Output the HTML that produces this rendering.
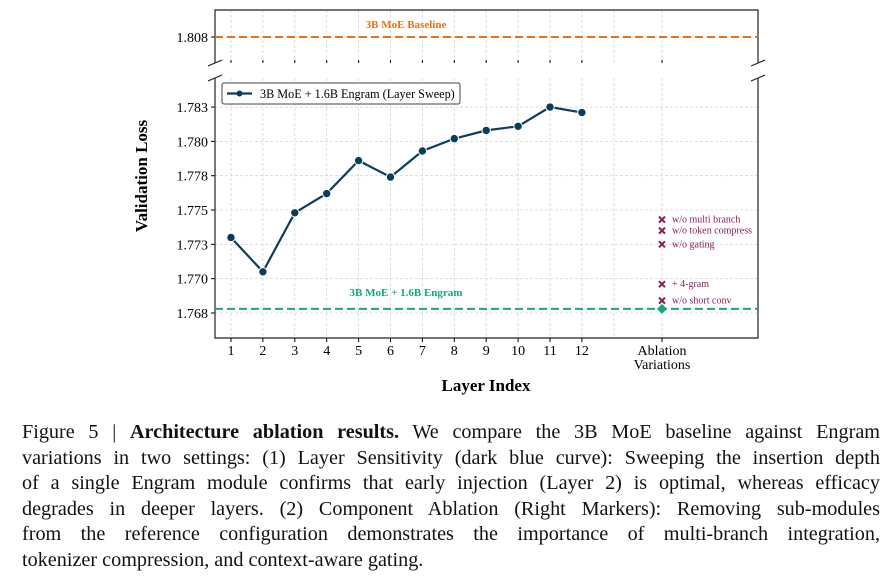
<!DOCTYPE html>
<html><head><meta charset="utf-8">
<style>
body{margin:0;width:896px;height:578px;background:#fff;overflow:hidden;position:relative;font-family:"Liberation Serif",serif;}
svg{position:absolute;left:0;top:0;}
.cap{position:absolute;left:22px;width:858px;font-size:20.2px;color:#111;line-height:25.6px;}
.ln{text-align:justify;text-align-last:justify;white-space:nowrap;height:25.6px;}
.ln.last{text-align-last:left;}
</style></head><body>
<svg id="chart" width="896" height="410" font-family="Liberation Serif, serif"></svg>
<div class="cap" style="top:420px">
<div class="ln">Figure 5 | <b>Architecture ablation results.</b> We compare the 3B MoE baseline against Engram</div>
<div class="ln">variations in two settings: (1) Layer Sensitivity (dark blue curve): Sweeping the insertion depth</div>
<div class="ln">of a single Engram module confirms that early injection (Layer 2) is optimal, whereas efficacy</div>
<div class="ln">degrades in deeper layers. (2) Component Ablation (Right Markers): Removing sub-modules</div>
<div class="ln">from the reference configuration demonstrates the importance of multi-branch integration,</div>
<div class="ln last">tokenizer compression, and context-aware gating.</div>
</div>
<script>
const layers=[1,2,3,4,5,6,7,8,9,10,11,12];
const sweepLoss=[1.7730,1.7705,1.7748,1.7762,1.7786,1.7774,1.7793,1.7802,1.7808,1.7811,1.7825,1.7821];
const ablationLabels=["w/o multi branch","w/o token compress","w/o gating","+ 4-gram","w/o short conv"];
const ablationLoss=[1.7743,1.7735,1.7725,1.7696,1.7684];
const engramLoss=1.7678;
const baselineLoss=1.808;
const yTicks=[1.7675,1.7700,1.7725,1.7750,1.7775,1.7800,1.7825];
const yTickLabels=["1.768","1.770","1.773","1.775","1.778","1.780","1.783"];

const svg=document.getElementById('chart');
const NS='http://www.w3.org/2000/svg';
function el(tag,attrs,parent){const e=document.createElementNS(NS,tag);for(const k in attrs)e.setAttribute(k,attrs[k]);(parent||svg).appendChild(e);return e;}
const L=215,R=758,T1=10,B1=63,T2=78,B2=338;
const xL=i=>231+(i-1)*31.9;
const xAbl=662;
const yB=v=>313-(v-1.7675)*13730;
const yT=v=>37-(v-1.808)*13730;
const navy='#0b3d5a',plum='#8b1e5a',teal='#17a67f',orange='#e8711a',grid='#d6d6d6';

const gx=[...layers.map(xL),614,xAbl];
gx.forEach(x=>{
 let g=el('line',{x1:x,x2:x,y1:T1,y2:B1,stroke:grid,'stroke-dasharray':'3,2','stroke-width':0.8});
 
 g=el('line',{x1:x,x2:x,y1:T2,y2:B2,stroke:grid,'stroke-dasharray':'3,2','stroke-width':0.8});
 
});
yTicks.forEach((v,i)=>{
 const y=yB(v);
 const g=el('line',{x1:L,x2:R,y1:y,y2:y,stroke:grid,'stroke-dasharray':'3,2','stroke-width':0.8});
 
 el('line',{x1:L-4,x2:L,y1:y,y2:y,stroke:'#000'});
 const t=el('text',{x:L-7,y:y+5,'text-anchor':'end','font-size':14});t.textContent=yTickLabels[i];
 
});
{const y=yT(baselineLoss);
 el('line',{x1:L,x2:R,y1:y,y2:y,stroke:grid,'stroke-dasharray':'3,2','stroke-width':0.8});
 el('line',{x1:L-4,x2:L,y1:y,y2:y,stroke:'#000'});
 const t=el('text',{x:L-7,y:y+5,'text-anchor':'end','font-size':14});t.textContent='1.808';
 }

let a=el('path',{d:`M${L},${B1} L${L},${T1} L${R},${T1} L${R},${B1}`,fill:'none',stroke:'#222','stroke-width':1.2});

a=el('path',{d:`M${L},${T2} L${L},${B2} L${R},${B2} L${R},${T2}`,fill:'none',stroke:'#222','stroke-width':1.2});

[[L,B1],[R,B1],[L,T2],[R,T2]].forEach(([x,y])=>el('line',{x1:x-7,x2:x+7,y1:y+3,y2:y-3,stroke:'#222','stroke-width':1.2}));
gx.filter((x,i)=>i<12||x===xAbl).forEach(x=>el('line',{x1:x,x2:x,y1:B1,y2:B1-3,stroke:'#000'}));

layers.forEach(l=>{
 el('line',{x1:xL(l),x2:xL(l),y1:B2,y2:B2+4,stroke:'#000'});
 const t=el('text',{x:xL(l),y:B2+17,'text-anchor':'middle','font-size':14});t.textContent=l;
 
});
el('line',{x1:xAbl,x2:xAbl,y1:B2,y2:B2+4,stroke:'#000'});
let t=el('text',{x:xAbl,y:B2+17,'text-anchor':'middle','font-size':14});t.textContent='Ablation';

t=el('text',{x:xAbl,y:B2+31,'text-anchor':'middle','font-size':14});t.textContent='Variations';


t=el('text',{x:486,y:391,'text-anchor':'middle','font-size':17,'font-weight':'bold'});t.textContent='Layer Index';

t=el('text',{x:0,y:0,'text-anchor':'middle','font-size':17,'font-weight':'bold',transform:'translate(147,176) rotate(-90)'});t.textContent='Validation Loss';


let ln=el('line',{x1:L,x2:R,y1:yT(baselineLoss),y2:yT(baselineLoss),stroke:orange,'stroke-width':2,'stroke-dasharray':'8,4'});

t=el('text',{x:406,y:yT(baselineLoss)-9,'text-anchor':'middle','font-size':11,'font-weight':'bold',fill:orange});t.textContent='3B MoE Baseline';


ln=el('line',{x1:L,x2:R,y1:yB(engramLoss),y2:yB(engramLoss),stroke:teal,'stroke-width':2,'stroke-dasharray':'8,4'});

t=el('text',{x:406,y:yB(engramLoss)-13,'text-anchor':'middle','font-size':11,'font-weight':'bold',fill:teal});t.textContent='3B MoE + 1.6B Engram';

let d=el('path',{d:`M${xAbl},${yB(engramLoss)-5} l5,5 l-5,5 l-5,-5z`,fill:teal});


const pts=layers.map((l,i)=>`${xL(l)},${yB(sweepLoss[i])}`).join(' ');
ln=el('polyline',{points:pts,fill:'none',stroke:navy,'stroke-width':2.2});

layers.forEach((l,i)=>{
 const c=el('circle',{cx:xL(l),cy:yB(sweepLoss[i]),r:4.2,fill:navy,stroke:'#fff','stroke-width':1});
 
});

ablationLabels.forEach((lab,i)=>{
 const y=yB(ablationLoss[i]);
 const m=el('path',{d:`M${xAbl-3},${y-3} L${xAbl+3},${y+3} M${xAbl+3},${y-3} L${xAbl-3},${y+3}`,stroke:plum,'stroke-width':2});
 
 const tt=el('text',{x:xAbl+10,y:y+3,'font-size':10,fill:plum});tt.textContent=lab;
 
});

const g=el('g',{});

el('rect',{x:222,y:83,width:238,height:21,rx:2,fill:'#fff',stroke:'#444','stroke-width':1},g);
el('line',{x1:227,x2:252,y1:93.5,y2:93.5,stroke:navy,'stroke-width':2.2},g);
el('circle',{cx:239.5,cy:93.5,r:3,fill:navy},g);
t=el('text',{x:260,y:98,'font-size':12.2},g);t.textContent='3B MoE + 1.6B Engram (Layer Sweep)';

</script>
</body></html>
